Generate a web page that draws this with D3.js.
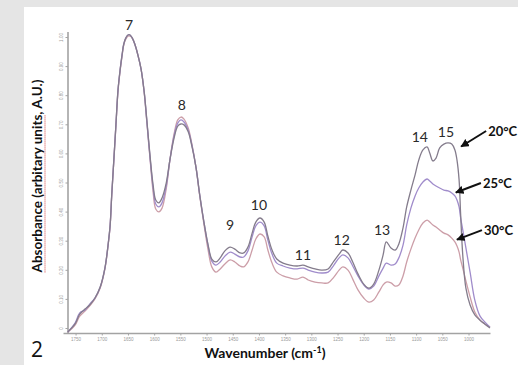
<!DOCTYPE html>
<html><head><meta charset="utf-8">
<script src="https://cdn.jsdelivr.net/npm/d3@7"></script>
<style>html,body{margin:0;padding:0;background:#e5e5e5;}svg{display:block;}</style>
</head><body>
<svg id="chart" width="518" height="365"></svg>
<script>
const wavenumbers = [1765,1751,1742,1732,1723,1713,1703,1694,1688,1684,1681,1677,1673,1669,1665,1661,1658,1654,1650,1646,
1642,1637,1631,1625,1619,1614,1608,1602,1597,1591,1585,1577,1570,1562,1555,1549,1543,1535,1528,1520,
1513,1505,1497,1490,1482,1474,1465,1455,1446,1436,1429,1421,1413,1406,1398,1390,1383,1375,1366,1354,
1341,1327,1316,1306,1293,1280,1268,1257,1247,1240,1230,1221,1211,1200,1190,1181,1171,1163,1157,1148,
1140,1133,1125,1118,1110,1102,1095,1087,1079,1074,1068,1062,1055,1047,1039,1032,1026,1022,1018,1015,
1011,1005,997,988,978,969,959];
const abs20C = [-0.014,0.014,0.048,0.065,0.079,0.103,0.141,0.206,0.285,0.354,0.457,0.577,0.698,0.818,0.887,0.942,0.976,0.997,1.007,1.007,
0.997,0.976,0.938,0.890,0.811,0.715,0.594,0.491,0.440,0.430,0.447,0.498,0.577,0.653,0.694,0.701,0.698,0.674,0.625,0.550,
0.457,0.364,0.285,0.237,0.227,0.241,0.265,0.278,0.271,0.258,0.258,0.278,0.326,0.364,0.378,0.364,0.316,0.268,0.237,0.223,
0.216,0.213,0.216,0.210,0.203,0.199,0.203,0.230,0.254,0.268,0.258,0.227,0.186,0.151,0.137,0.151,0.199,0.251,0.296,0.275,
0.268,0.289,0.344,0.416,0.474,0.526,0.577,0.612,0.622,0.601,0.574,0.584,0.619,0.632,0.636,0.632,0.612,0.577,0.509,0.388,
0.251,0.137,0.079,0.045,0.027,0.014,0.000];
const abs25C = [-0.014,0.017,0.052,0.062,0.082,0.103,0.141,0.206,0.285,0.354,0.457,0.577,0.698,0.818,0.887,0.942,0.976,0.997,1.007,1.007,
0.997,0.976,0.938,0.890,0.811,0.711,0.588,0.481,0.426,0.416,0.430,0.488,0.577,0.660,0.704,0.715,0.708,0.680,0.629,0.550,
0.457,0.364,0.282,0.230,0.216,0.227,0.247,0.261,0.254,0.244,0.244,0.265,0.313,0.351,0.364,0.351,0.302,0.254,0.223,0.213,
0.206,0.203,0.206,0.199,0.192,0.189,0.192,0.216,0.241,0.251,0.241,0.213,0.179,0.148,0.134,0.144,0.179,0.206,0.223,0.216,
0.220,0.241,0.285,0.354,0.412,0.454,0.481,0.502,0.512,0.505,0.495,0.488,0.481,0.474,0.471,0.464,0.454,0.440,0.416,0.378,
0.337,0.275,0.192,0.096,0.041,0.021,0.003];
const abs30C = [-0.014,0.010,0.041,0.058,0.076,0.100,0.137,0.203,0.282,0.351,0.454,0.574,0.694,0.814,0.883,0.938,0.973,0.993,1.003,1.003,
0.997,0.976,0.938,0.890,0.808,0.708,0.584,0.467,0.409,0.399,0.412,0.478,0.577,0.667,0.715,0.725,0.718,0.687,0.632,0.550,
0.454,0.357,0.268,0.210,0.192,0.203,0.220,0.234,0.227,0.213,0.210,0.227,0.268,0.306,0.323,0.313,0.268,0.223,0.192,0.179,
0.172,0.168,0.175,0.165,0.158,0.155,0.155,0.175,0.199,0.210,0.199,0.168,0.131,0.103,0.089,0.096,0.124,0.148,0.158,0.155,
0.144,0.148,0.179,0.227,0.271,0.309,0.337,0.361,0.371,0.364,0.354,0.347,0.337,0.326,0.320,0.309,0.296,0.282,0.261,0.234,
0.206,0.162,0.107,0.055,0.027,0.014,0.003];
const seriesNames = ["30°C","25°C","20°C"];
const seriesColors = ["#cc9ea8","#a08ccb","#847c8c"];
const xTickValues = [1750,1700,1650,1600,1550,1500,1450,1400,1350,1300,1250,1200,1150,1100,1050,1000];
const yTickValues = [0,0.1,0.2,0.3,0.4,0.5,0.6,0.7,0.8,0.9,1.0];
const peakNames = ["7","8","9","10","11","12","13","14","15"];
const peakWavenumbers = [1648,1547,1455,1400,1316,1242,1165,1093,1043];
const peakLabelLevels = [1.024,0.749,0.337,0.405,0.234,0.285,0.320,0.639,0.656];
const arrowWavenumbers = [1024,1026,1016];
const arrowLevels = [0.302,0.464,0.622];

const svg = d3.select("#chart");
svg.append("rect").attr("x",0).attr("y",0).attr("width",518).attr("height",365).attr("fill","#e5e5e5");
svg.append("rect").attr("x",24).attr("y",7).attr("width",494).attr("height",358).attr("fill","#ffffff");

const x = d3.scaleLinear().domain([1774,959]).range([63,490]);
const y = d3.scaleLinear().domain([0,1]).range([328,37]);

// axes
const axisColor = "#a3a3a3";
const xAxis = d3.axisBottom(x).tickValues(xTickValues).tickSize(2.5).tickSizeOuter(0).tickFormat(d3.format("d"));
const gx = svg.append("g").attr("transform","translate(0,333)").call(xAxis);
gx.select(".domain").attr("stroke",axisColor).attr("stroke-width",1.6);
gx.selectAll(".tick line").attr("stroke",axisColor);
gx.selectAll(".tick text").attr("fill","#9a9a9a").attr("font-size","4.5px").attr("font-family","Liberation Sans, Arial, sans-serif").attr("dy","0.55em");

const yAxis = d3.axisLeft(y).tickValues(yTickValues).tickSize(2.5).tickSizeOuter(0)
  .tickFormat(d => d === 0 ? "0" : d3.format(".2f")(d));
const gy = svg.append("g").attr("transform","translate(68,0)").call(yAxis);
gy.select(".domain").attr("d","M0,32V333").attr("stroke",axisColor).attr("stroke-width",1.6);
gy.selectAll(".tick line").attr("stroke",axisColor);
gy.selectAll(".tick text").attr("fill","#9a9a9a").attr("font-size","4.5px").attr("font-family","Liberation Sans, Arial, sans-serif")
  .attr("x",null).attr("dy",null).attr("text-anchor","middle")
  .attr("transform","translate(-5,0) rotate(-90)");

// curves
const seriesData = [abs30C, abs25C, abs20C];
const line = d3.line().x((d,i)=>x(wavenumbers[i])).y(d=>y(d)).curve(d3.curveCatmullRom.alpha(0.5));
seriesData.forEach((s,k)=>{
  svg.append("path").datum(s).attr("d",line).attr("fill","none")
    .attr("stroke",seriesColors[k]).attr("stroke-width",1.3).attr("stroke-linejoin","round");
});

// peak labels
const labelFont = "Lato, 'Open Sans', sans-serif";
peakNames.forEach((n,i)=>{
  svg.append("text").attr("x",x(peakWavenumbers[i])).attr("y",y(peakLabelLevels[i]))
    .attr("text-anchor","middle").attr("font-family",labelFont).attr("font-size","14px")
    .attr("fill","#2a2a2a").text(n);
});

// temperature arrows
const defs = svg.append("defs");
defs.append("marker").attr("id","ah").attr("viewBox","0 0 10 10").attr("refX",9).attr("refY",5)
  .attr("markerWidth",4.2).attr("markerHeight",4.2).attr("orient","auto")
  .append("path").attr("d","M0,0L10,5L0,10Z").attr("fill","#111");
seriesNames.forEach((n,k)=>{
  const tx = x(arrowWavenumbers[k]), ty = y(arrowLevels[k]);
  const dy = k===2 ? -16 : -10;
  svg.append("line").attr("x1",tx+26).attr("y1",ty+dy).attr("x2",tx+1).attr("y2",ty-0.5)
    .attr("stroke","#111").attr("stroke-width",2).attr("marker-end","url(#ah)");
  svg.append("text").attr("x",tx+28).attr("y",ty+dy+5).attr("font-family",labelFont)
    .attr("font-weight","bold").attr("font-size","13px").attr("fill","#111").text(n);
});

// axis titles
const xt = svg.append("text").attr("x",265).attr("y",358).attr("text-anchor","middle")
  .attr("font-family",labelFont).attr("font-weight","bold").attr("font-size","14px").attr("fill","#111");
xt.append("tspan").text("Wavenumber (cm");
xt.append("tspan").attr("font-size","9px").attr("dy","-5").text("-1");
xt.append("tspan").attr("dy","5").text(")");

const ylab = svg.append("text").attr("transform","translate(42,176) rotate(-90)").attr("text-anchor","middle")
  .attr("font-family",labelFont).attr("font-weight","bold").attr("font-size","13.5px").attr("fill","#111")
  .text("Absorbance (arbitary units, A.U.)");
// spell-check underline
const node = ylab.node();
const total = node.getComputedTextLength();
const sub = node.getSubStringLength(0, "Absorbance (arbitary units".length);
svg.append("line").attr("transform","translate(42,176) rotate(-90)")
  .attr("x1",-total/2).attr("x2",-total/2+sub).attr("y1",3).attr("y2",3)
  .attr("stroke","#d04040").attr("stroke-width",1).attr("stroke-dasharray","1,1");

svg.append("text").attr("x",37).attr("y",357).attr("text-anchor","middle")
  .attr("font-family","'Open Sans', Lato, sans-serif").attr("font-size","21px").attr("fill","#111").text("2");
</script>
</body></html>
